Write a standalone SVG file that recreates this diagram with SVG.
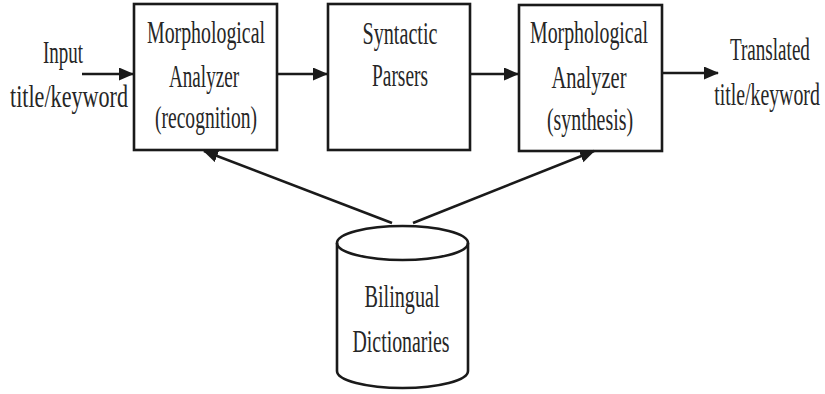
<svg xmlns="http://www.w3.org/2000/svg" width="825" height="394" viewBox="0 0 825 394">
  <style>
    .box { fill: #ffffff; stroke: #1a1a1a; stroke-width: 2.6; }
    .edge { fill: none; stroke: #1a1a1a; stroke-width: 2.6; }
    .lbl { font-family: "Liberation Serif", "Times New Roman", serif; font-size: 31px; fill: #262626; text-anchor: middle; }
  </style>
  <defs>
    <marker id="arrow" markerUnits="userSpaceOnUse" markerWidth="16" markerHeight="14" refX="14" refY="6.5" orient="auto">
      <path d="M0,0 L15,6.5 L0,13 z" fill="#1a1a1a"/>
    </marker>
  </defs>
  <rect width="825" height="394" fill="#ffffff"/>

  <g id="input-label">
    <text class="lbl" x="63" y="63" textLength="40" lengthAdjust="spacingAndGlyphs">Input</text>
    <text class="lbl" x="69" y="107" textLength="118" lengthAdjust="spacingAndGlyphs">title/keyword</text>
  </g>

  <g id="morph-recognition">
    <rect class="box" x="134" y="4" width="143" height="146"/>
    <text class="lbl" x="206" y="43" textLength="118" lengthAdjust="spacingAndGlyphs">Morphological</text>
    <text class="lbl" x="204" y="87" textLength="70" lengthAdjust="spacingAndGlyphs">Analyzer</text>
    <text class="lbl" x="206" y="128" textLength="102" lengthAdjust="spacingAndGlyphs">(recognition)</text>
  </g>

  <g id="syntactic-parsers">
    <rect class="box" x="328" y="4" width="142" height="146"/>
    <text class="lbl" x="400" y="44" textLength="75" lengthAdjust="spacingAndGlyphs">Syntactic</text>
    <text class="lbl" x="400" y="86" textLength="56" lengthAdjust="spacingAndGlyphs">Parsers</text>
  </g>

  <g id="morph-synthesis">
    <rect class="box" x="519" y="5" width="143" height="146"/>
    <text class="lbl" x="589" y="43" textLength="118" lengthAdjust="spacingAndGlyphs">Morphological</text>
    <text class="lbl" x="589" y="88" textLength="75" lengthAdjust="spacingAndGlyphs">Analyzer</text>
    <text class="lbl" x="590" y="130" textLength="86" lengthAdjust="spacingAndGlyphs">(synthesis)</text>
  </g>

  <!-- condensed horizontally so the label stays inside the right margin -->
  <g id="output-label" transform="translate(768,0) scale(0.64,1)">
    <text class="lbl" x="3" y="60" textLength="125" lengthAdjust="spacingAndGlyphs">Translated</text>
    <text class="lbl" x="-1.6" y="105" textLength="165" lengthAdjust="spacingAndGlyphs">title/keyword</text>
  </g>

  <g id="bilingual-dictionaries">
    <path class="box" d="M337,243 L337,371 A65.5,17 0 0 0 468,371 L468,243 A65.5,17 0 0 0 337,243 Z"/>
    <path class="edge" d="M337,243 A65.5,17 0 0 0 468,243"/>
    <text class="lbl" x="402" y="307" textLength="75" lengthAdjust="spacingAndGlyphs">Bilingual</text>
    <text class="lbl" x="401" y="352" textLength="97" lengthAdjust="spacingAndGlyphs">Dictionaries</text>
  </g>

  <g id="connectors">
    <line class="edge" x1="82" y1="74" x2="133" y2="74" marker-end="url(#arrow)"/>
    <line class="edge" x1="277" y1="74" x2="327" y2="74" marker-end="url(#arrow)"/>
    <line class="edge" x1="470" y1="74" x2="518" y2="74" marker-end="url(#arrow)"/>
    <line class="edge" x1="662" y1="73" x2="718" y2="73" marker-end="url(#arrow)"/>
    <line class="edge" x1="392" y1="223" x2="204" y2="151" marker-end="url(#arrow)"/>
    <line class="edge" x1="413" y1="223" x2="594" y2="151" marker-end="url(#arrow)"/>
  </g>
</svg>
